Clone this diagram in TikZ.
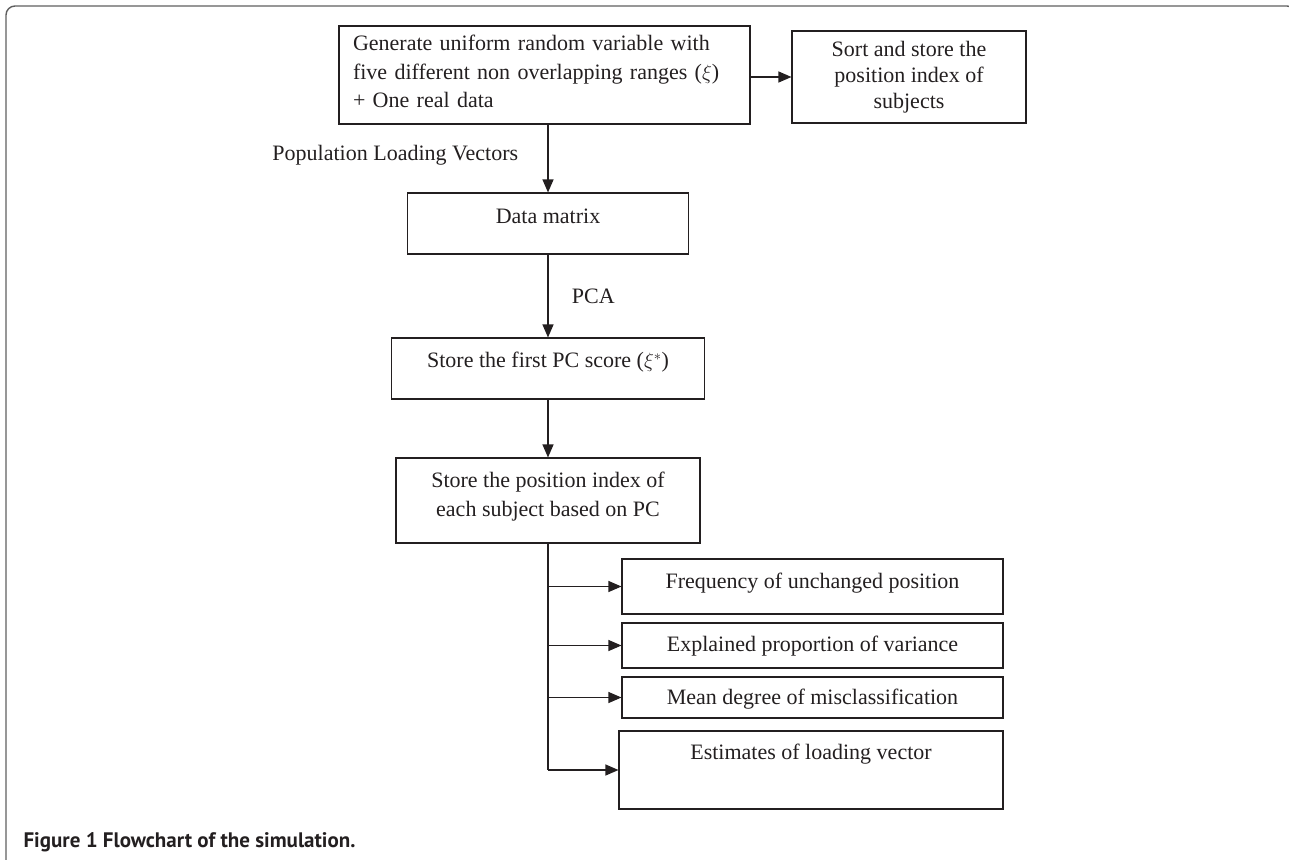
\documentclass[tikz,border=0pt]{standalone}
\usepackage{fontspec}
\setmainfont{Liberation Serif}
\newfontfamily\capfont{PT Sans}
\usetikzlibrary{arrows.meta}
\definecolor{ink}{RGB}{35,31,32}
\definecolor{framegray}{RGB}{95,95,95}
\tikzset{
  box/.style={draw=ink, line width=1.1pt, align=center, inner sep=0pt, text=ink,
    font=\fontsize{22}{28.5}\selectfont},
  flow/.style={draw=ink, line width=1.1pt, -{Triangle[length=13pt,width=11pt]}},
  lbl/.style={text=ink, font=\fontsize{22}{28.5}\selectfont}
}
\begin{document}
\begin{tikzpicture}[x=1pt,y=-1pt]
  \useasboundingbox (0,0) rectangle (1289,859);
  \draw[framegray, line width=1.4pt, rounded corners=9pt]
    (6,880) -- (6,6) -- (1296,6) -- (1296,880);
  % boxes
  \node[box, minimum width=411pt, minimum height=98pt, text width=383pt,
    align=left, text depth=64pt] (gen) at (544.5,75)
    {Generate uniform random variable with\\
     five different non overlapping ranges ($\xi$)\\
     + One real data};
  \node[box, minimum width=234pt, minimum height=92pt,
    font=\fontsize{22}{26}\selectfont] (sort) at (909,77)
    {Sort and store the\\ position index of\\ subjects};
  \node[box, minimum width=281pt, minimum height=61pt, text depth=14pt]
    (data) at (548,223.5) {Data matrix};
  \node[box, minimum width=313pt, minimum height=61pt, text depth=17pt]
    (first) at (548,368.5) {Store the first PC score ($\xi^{*}$)};
  \node[box, minimum width=304pt, minimum height=85pt, text depth=13pt]
    (pos) at (548,500.5)
    {Store the position index of\\ each subject based on PC};
  \node[box, minimum width=381pt, minimum height=55pt, text depth=12pt]
    (freq) at (812.5,586.5) {Frequency of unchanged position};
  \node[box, minimum width=381pt, minimum height=45pt, text depth=3pt]
    (expl) at (812.5,645.5) {Explained proportion of variance};
  \node[box, minimum width=381pt, minimum height=41pt, text depth=2pt]
    (mean) at (812.5,697.5) {Mean degree of misclassification};
  \node[box, minimum width=384pt, minimum height=78pt, text depth=37pt]
    (est) at (811,770) {Estimates of loading vector};
  % connectors
  \draw[flow] (sort.west -| gen.east) -- (sort.west);
  \draw[flow] (data.north |- gen.south) --
    node[lbl, pos=0.45, left=26pt] {Population Loading Vectors} (data.north);
  \draw[flow] (data.south) -- node[lbl, right=20pt] {PCA} (first.north);
  \draw[flow] (first.south) -- (pos.north);
  \draw[draw=ink, line width=1.1pt] (pos.south) -- (pos.south |- est.west);
  \foreach \r in {freq,expl,mean,est}
    \draw[flow] (pos.south |- \r.west) -- (\r.west);
  \node[anchor=west, text=ink, font=\capfont\bfseries\fontsize{21}{25}\selectfont]
    (cap) at (20,842) {Figure 1 Flowchart of the simulation.};
\end{tikzpicture}
\end{document}
